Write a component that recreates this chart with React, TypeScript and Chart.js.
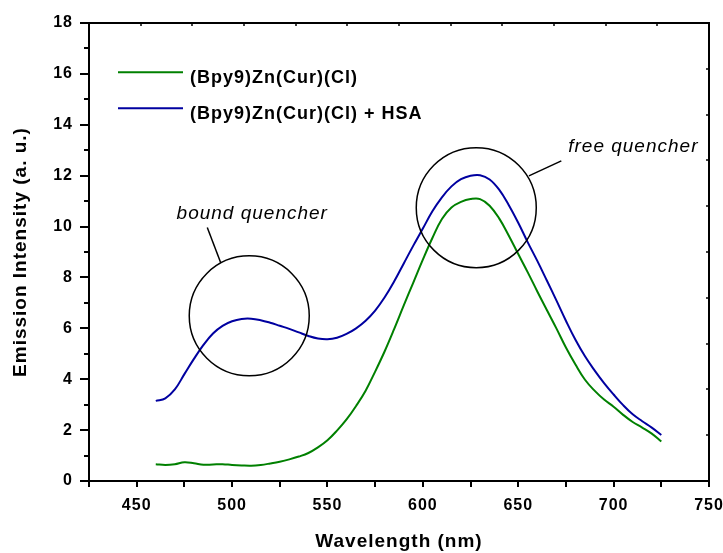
import React, { useEffect, useRef } from 'react';
import { Chart, registerables } from 'chart.js';

Chart.register(...registerables);

// ---- data ----
const wavelengths = [
  460, 465, 470, 475, 480, 485, 490, 495, 500, 505, 510, 515, 520, 525, 530, 535, 540, 545,
  550, 555, 560, 565, 570, 575, 580, 585, 590, 595, 600, 605, 610, 615, 620, 625, 630, 635,
  640, 645, 650, 655, 660, 665, 670, 675, 680, 685, 690, 695, 700, 705, 710, 715, 720, 725,
];

const complexOnly = [
  0.66, 0.63, 0.66, 0.74, 0.70, 0.64, 0.65, 0.66, 0.63, 0.61, 0.60, 0.63, 0.69, 0.76, 0.85, 0.96, 1.1, 1.32,
  1.6, 1.98, 2.42, 2.95, 3.55, 4.3, 5.1, 5.98, 6.9, 7.8, 8.7, 9.55, 10.3, 10.75, 10.97, 11.08, 11.08, 10.82,
  10.32, 9.65, 8.92, 8.2, 7.45, 6.72, 6.0, 5.25, 4.58, 3.98, 3.55, 3.2, 2.92, 2.6, 2.32, 2.1, 1.86, 1.55,
];

const complexWithHSA = [
  3.15, 3.25, 3.6, 4.2, 4.8, 5.35, 5.8, 6.1, 6.28, 6.37, 6.38, 6.32, 6.22, 6.1, 5.98, 5.84, 5.7, 5.6,
  5.57, 5.63, 5.78, 6.0, 6.3, 6.7, 7.22, 7.85, 8.55, 9.25, 9.92, 10.6, 11.15, 11.58, 11.86, 12.0, 12.02, 11.85,
  11.45, 10.85, 10.15, 9.38, 8.65, 7.88, 7.1, 6.3, 5.55, 4.9, 4.35, 3.85, 3.4, 2.98, 2.62, 2.35, 2.1, 1.81,
];

const seriesNames = ['(Bpy9)Zn(Cur)(Cl)', '(Bpy9)Zn(Cur)(Cl) + HSA'];
const seriesColors = ['#008000', '#0000a0'];

const xTickLabels = [450, 500, 550, 600, 650, 700, 750];
const yTickLabels = [0, 2, 4, 6, 8, 10, 12, 14, 16, 18];

const xTitle = 'Wavelength (nm)';
const yTitle = 'Emission Intensity (a. u.)';

// annotations (data coordinates)
const circleCentersX = [509, 628];
const circleCentersY = [6.49, 10.74];
const annotationTexts = ['bound quencher', 'free quencher'];
const annotationTextX = [470.9, 676.2];
const annotationTextY = [10.29, 12.92];
const leaderFromX = [487.0, 655.6];
const leaderFromY = [9.96, 11.99];
const leaderToX = [494.05, 672.6];
const leaderToY = [8.58, 12.58];

const FONT = "'Liberation Sans', Arial, Helvetica, sans-serif";

const zeroPad = (s: any) => {
  s.paddingLeft = 0;
  s.paddingRight = 0;
  s.paddingTop = 0;
  s.paddingBottom = 0;
};

const decorPlugin = {
  id: 'decor',
  beforeDraw(chart: any) {
    try {
      chart.ctx.letterSpacing = '1px';
    } catch (e) {}
  },
  afterDatasetsDraw(chart: any) {
    const { ctx, scales } = chart;
    const x = scales.x;
    const y = scales.y;
    ctx.save();
    ctx.strokeStyle = '#000';
    ctx.fillStyle = '#000';
    ctx.lineWidth = 1.5;
    for (let i = 0; i < circleCentersX.length; i++) {
      ctx.beginPath();
      ctx.arc(x.getPixelForValue(circleCentersX[i]), y.getPixelForValue(circleCentersY[i]), 60, 0, Math.PI * 2);
      ctx.stroke();
      ctx.beginPath();
      ctx.moveTo(x.getPixelForValue(leaderFromX[i]), y.getPixelForValue(leaderFromY[i]));
      ctx.lineTo(x.getPixelForValue(leaderToX[i]), y.getPixelForValue(leaderToY[i]));
      ctx.stroke();
      ctx.font = `italic 19px ${FONT}`;
      ctx.textAlign = 'left';
      ctx.textBaseline = 'alphabetic';
      ctx.fillText(annotationTexts[i], x.getPixelForValue(annotationTextX[i]), y.getPixelForValue(annotationTextY[i]));
    }
    ctx.restore();
  },
  afterDraw(chart: any) {
    const { ctx, chartArea: a, scales } = chart;
    ctx.save();
    ctx.strokeStyle = '#000';
    ctx.lineWidth = 2;
    const line = (x1: number, y1: number, x2: number, y2: number) => {
      ctx.beginPath();
      ctx.moveTo(x1, y1);
      ctx.lineTo(x2, y2);
      ctx.stroke();
    };
    scales.x.ticks.forEach((t: any) => {
      const px = Math.round(scales.x.getPixelForValue(t.value));
      line(px, a.bottom, px, a.bottom + 6);
    });
    scales.y.ticks.forEach((t: any) => {
      const py = Math.round(scales.y.getPixelForValue(t.value));
      const len = yTickLabels.includes(t.value) ? 9 : 5;
      line(a.left - len, py, a.left, py);
    });
    ctx.lineWidth = 1.5;
    const tt = scales.xTop.ticks;
    tt.forEach((t: any, i: number) => {
      if (i === 0 || i === tt.length - 1) return;
      const px = Math.round(scales.xTop.getPixelForValue(t.value));
      line(px, a.top, px, a.top + 3);
    });
    const rt = scales.yRight.ticks;
    rt.forEach((t: any, i: number) => {
      if (i === 0 || i === rt.length - 1) return;
      const py = Math.round(scales.yRight.getPixelForValue(t.value));
      line(a.right - 3, py, a.right, py);
    });

    // legend
    ctx.font = `bold 18px ${FONT}`;
    ctx.textAlign = 'left';
    ctx.textBaseline = 'alphabetic';
    ctx.fillStyle = '#000';
    for (let i = 0; i < seriesNames.length; i++) {
      const ly = a.top + 49.3 + i * 36;
      ctx.strokeStyle = seriesColors[i];
      ctx.lineWidth = 2;
      line(a.left + 29, ly, a.left + 94, ly);
      ctx.fillText(seriesNames[i], a.left + 101, ly + 11);
    }
    ctx.restore();
  },
};

export default function App() {
  const canvasRef = useRef<HTMLCanvasElement | null>(null);

  useEffect(() => {
    if (!canvasRef.current) return;
    Chart.defaults.color = '#000';
    const chart = new Chart(canvasRef.current, {
      type: 'line',
      data: {
        datasets: [
          {
            label: seriesNames[0],
            data: wavelengths.map((w, i) => ({ x: w, y: complexOnly[i] })),
            borderColor: seriesColors[0],
            borderWidth: 2,
            pointRadius: 0,
            tension: 0.4,
            fill: false,
          },
          {
            label: seriesNames[1],
            data: wavelengths.map((w, i) => ({ x: w, y: complexWithHSA[i] })),
            borderColor: seriesColors[1],
            borderWidth: 2,
            pointRadius: 0,
            tension: 0.4,
            fill: false,
          },
        ],
      },
      options: {
        responsive: false,
        animation: false,
        events: [],
        layout: { padding: { top: 23, right: 14, left: 0, bottom: 0 } },
        plugins: { legend: { display: false }, tooltip: { enabled: false } },
        scales: {
          x: {
            type: 'linear',
            position: 'bottom',
            min: 425,
            max: 750,
            grid: { display: false, drawTicks: false },
            border: { display: true, color: '#000', width: 2 },
            ticks: {
              stepSize: 25,
              autoSkip: false,
              maxRotation: 0,
              padding: 15,
              color: '#000',
              font: { family: FONT, size: 16, weight: 'bold' },
              callback: (v: any) => (xTickLabels.includes(Number(v)) ? String(v) : ''),
            },
            title: {
              display: true,
              text: xTitle,
              color: '#000',
              font: { family: FONT, size: 19, weight: 'bold' },
              padding: { top: 0, bottom: 0 },
            },
            afterFit: (s: any) => {
              s.height = 72;
              zeroPad(s);
            },
          },
          xTop: {
            type: 'linear',
            position: 'top',
            min: 0,
            max: 12,
            grid: { display: false, drawTicks: false },
            border: { display: true, color: '#000', width: 2 },
            ticks: { display: false, stepSize: 1 },
            afterFit: (s: any) => {
              s.height = 0;
              zeroPad(s);
            },
          },
          y: {
            type: 'linear',
            position: 'left',
            min: 0,
            max: 18,
            grid: { display: false, drawTicks: false },
            border: { display: true, color: '#000', width: 2 },
            ticks: {
              stepSize: 1,
              autoSkip: false,
              padding: 16,
              color: '#000',
              font: { family: FONT, size: 16, weight: 'bold' },
              callback: (v: any) => (yTickLabels.includes(Number(v)) ? String(v) : ''),
            },
            title: {
              display: true,
              text: yTitle,
              color: '#000',
              font: { family: FONT, size: 19, weight: 'bold' },
              padding: { top: 9, bottom: 0 },
            },
            afterFit: (s: any) => {
              s.width = 89;
              zeroPad(s);
            },
          },
          yRight: {
            type: 'linear',
            position: 'right',
            min: 0,
            max: 10,
            grid: { display: false, drawTicks: false },
            border: { display: true, color: '#000', width: 2 },
            ticks: { display: false, stepSize: 1 },
            afterFit: (s: any) => {
              s.width = 0;
              zeroPad(s);
            },
          },
        },
      } as any,
      plugins: [decorPlugin],
    });
    return () => chart.destroy();
  }, []);

  return (
    <div style={{ position: 'absolute', left: 0, top: 0, width: 723, height: 553, background: '#fff' }}>
      <canvas ref={canvasRef} width={723} height={553} style={{ display: 'block' }} />
    </div>
  );
}
